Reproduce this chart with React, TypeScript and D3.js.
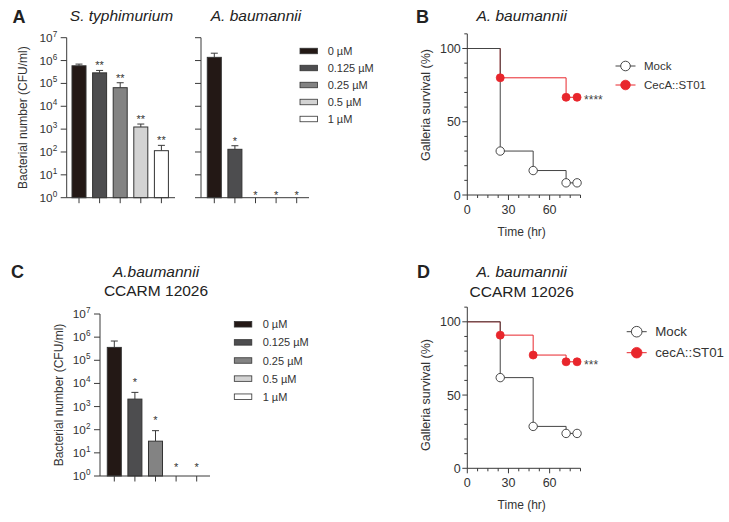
import React from 'react';
import * as d3 from 'd3';

const FONT = 'Liberation Sans, Arial, Helvetica, sans-serif';
const AX = '#3a3a3a';
const RED = '#e8262c';

// ---------- bar data ----------
const concentrations = ['0 µM', '0.125 µM', '0.25 µM', '0.5 µM', '1 µM'];
const barColors = ['#231815', '#4d4d4f', '#838383', '#d3d3d3', '#ffffff'];
const logTicks = [1, 10, 100, 1e3, 1e4, 1e5, 1e6, 1e7];
const logExps = ['0', '1', '2', '3', '4', '5', '6', '7'];

const stMean = [5.9e5, 2.9e5, 6.5e4, 1.24e3, 114];
const stUpper = [7.0e5, 3.7e5, 1.07e5, 1.67e3, 195];
const stSig = ['', '**', '**', '**', '**'];

const abMean = [1.38e6, 131, null, null, null];
const abUpper = [2.1e6, 188, null, null, null];
const abSig = ['', '*', '*', '*', '*'];

const ccMean = [3.6e5, 2.1e3, 32, null, null];
const ccUpper = [6.8e5, 4.1e3, 91, null, null];
const ccSig = ['', '*', '*', '*', '*'];

// ---------- survival data ----------
const timeB = [0, 24, 48, 72, 80];
const mockB = [100, 30, 16.7, 8.3, 8.3];
const timeBRed = [0, 24, 72, 80];
const cecB = [100, 80, 66.7, 66.7];

const timeD = [0, 24, 48, 72, 80];
const mockD = [100, 61.9, 28.6, 23.8, 23.8];
const cecD = [100, 90.9, 77.3, 72.7, 72.7];

const xMajor = [0, 30, 60];
const yMajor = [0, 50, 100];

type BarProps = {
  axisX: number; yTop: number; yBot: number; xEnd: number;
  r0: number; r1: number; mean: (number | null)[]; upper: (number | null)[];
  sig: string[]; labels: boolean; starGap: number; zeroGap: number;
};

function BarPanel(p: BarProps) {
  const y = d3.scaleLog().domain([1, 1e7]).range([p.yBot, p.yTop]);
  const x = d3.scaleBand<string>().domain(concentrations).range([p.r0, p.r1])
    .paddingInner(0.32).paddingOuter(0.16);
  const bw = x.bandwidth();
  return (
    <g>
      {concentrations.map((c, i) => {
        const m = p.mean[i];
        const u = p.upper[i];
        const cx = (x(c) as number) + bw / 2;
        const els: any[] = [];
        if (m != null && u != null) {
          els.push(<line key="e" x1={cx} x2={cx} y1={y(m)} y2={y(u)} stroke={AX} strokeWidth={1} />);
          els.push(<line key="c" x1={cx - 3.5} x2={cx + 3.5} y1={y(u)} y2={y(u)} stroke={AX} strokeWidth={1} />);
          els.push(<rect key="b" x={x(c)} y={y(m)} width={bw} height={p.yBot - y(m)} fill={barColors[i]} stroke="#333" strokeWidth={1} />);
        }
        if (p.sig[i]) {
          const sy = u != null ? y(u) - p.starGap : p.yBot - p.zeroGap;
          els.push(<text key="s" x={cx} y={sy + 5.5} textAnchor="middle" fontSize={11} fill="#333">{p.sig[i]}</text>);
        }
        els.push(<line key="t" x1={cx} x2={cx} y1={p.yBot} y2={p.yBot + 5.5} stroke={AX} strokeWidth={1} />);
        return <g key={c}>{els}</g>;
      })}
      <line x1={p.axisX} x2={p.axisX} y1={p.yTop} y2={p.yBot} stroke={AX} strokeWidth={1} />
      <line x1={p.axisX} x2={p.xEnd} y1={p.yBot} y2={p.yBot} stroke={AX} strokeWidth={1} />
      {logTicks.map((t, i) => (
        <g key={t}>
          <line x1={p.axisX - 6} x2={p.axisX} y1={y(t)} y2={y(t)} stroke={AX} strokeWidth={1} />
          {p.labels && (
            <text x={p.axisX - 9.5} y={y(t) + 4} textAnchor="end" fontSize={11.8} fill="#333">
              <tspan>10</tspan>
              <tspan dy={-5} fontSize={8.2}>{logExps[i]}</tspan>
            </text>
          )}
        </g>
      ))}
    </g>
  );
}

function BarLegend({ x, y0, step, tx }: { x: number; y0: number; step: number; tx: number }) {
  return (
    <g>
      {concentrations.map((c, i) => (
        <g key={c}>
          <rect x={x} y={y0 + i * step - 2.75} width={17.5} height={5.5} fill={barColors[i]} stroke="#333" strokeWidth={0.8} />
          <text x={tx} y={y0 + i * step + 4} fontSize={11} fill="#333">{c}</text>
        </g>
      ))}
    </g>
  );
}

type SurvProps = {
  yTop: number; yBot: number; tMock: number[]; mock: number[]; tRed: number[]; red: number[];
  stars: string; redLabel: string; legX: number; legY1: number; legY2: number; legFont: number; legR: number;
  labelY: number;
};

function SurvPanel(p: SurvProps) {
  const x = d3.scaleLinear().domain([0, 82.5]).range([467.3, 580.5]);
  const yy = d3.scaleLinear().domain([0, 100]).range([p.yBot, p.yBot - 1.465 * 100]);
  const line = d3.line<[number, number]>().x(d => x(d[0])).y(d => yy(d[1])).curve(d3.curveStepAfter);
  const mockPts = p.tMock.map((t, i) => [t, p.mock[i]] as [number, number]);
  const redPts = p.tRed.map((t, i) => [t, p.red[i]] as [number, number]);
  const minorX = d3.range(0, 82.6, 7.5);
  const minorY = d3.range(0, 111, 10);
  const axTop = yy(110);
  const last = redPts[redPts.length - 1];
  return (
    <g>
      <path d={line(redPts) || ''} fill="none" stroke={RED} strokeWidth={1} />
      <path d={line(mockPts) || ''} fill="none" stroke="#444" strokeWidth={1} />
      {redPts.slice(1).map((d, i) => (
        <circle key={'r' + i} cx={x(d[0])} cy={yy(d[1])} r={4} fill={RED} stroke={RED} strokeWidth={0.8} />
      ))}
      {mockPts.slice(1).map((d, i) => (
        <circle key={'m' + i} cx={x(d[0])} cy={yy(d[1])} r={4.2} fill="#fff" stroke="#333" strokeWidth={0.9} />
      ))}
      <text x={x(last[0]) + 7} y={yy(last[1]) + 7} fontSize={12} fill="#444">{p.stars}</text>
      {/* axes */}
      <line x1={x(0)} x2={x(0)} y1={axTop} y2={p.yBot} stroke={AX} strokeWidth={1} />
      <line x1={x(0)} x2={x(82.5)} y1={p.yBot} y2={p.yBot} stroke={AX} strokeWidth={1} />
      {minorX.map(t => (
        <line key={'mx' + t} x1={x(t)} x2={x(t)} y1={p.yBot} y2={p.yBot + (xMajor.includes(t) ? 5 : 3)} stroke={AX} strokeWidth={1} />
      ))}
      {minorY.map(t => (
        <line key={'my' + t} x1={x(0) - (yMajor.includes(t) ? 5 : 3)} x2={x(0)} y1={yy(t)} y2={yy(t)} stroke={AX} strokeWidth={1} />
      ))}
      {xMajor.map(t => (
        <text key={'xl' + t} x={x(t)} y={p.yBot + 19} textAnchor="middle" fontSize={12.5} fill="#333">{t}</text>
      ))}
      {yMajor.map(t => (
        <text key={'yl' + t} x={x(0) - 6.5} y={yy(t) + 4.5} textAnchor="end" fontSize={12.5} fill="#333">{t}</text>
      ))}
      <text x={521.7} y={p.yBot + 41} textAnchor="middle" fontSize={12} fill="#333">Time (hr)</text>
      <text transform={`translate(429.5,${p.labelY}) rotate(-90)`} textAnchor="middle" fontSize={12.5} fill="#333">Galleria survival (%)</text>
      {/* legend */}
      <line x1={p.legX - 10} x2={p.legX + 10} y1={p.legY1} y2={p.legY1} stroke="#444" strokeWidth={1} />
      <circle cx={p.legX} cy={p.legY1} r={p.legR} fill="#fff" stroke="#333" strokeWidth={0.9} />
      <text x={p.legX + 18.5} y={p.legY1 + p.legFont * 0.36} fontSize={p.legFont} fill="#333">Mock</text>
      <line x1={p.legX - 10} x2={p.legX + 10} y1={p.legY2} y2={p.legY2} stroke={RED} strokeWidth={1} />
      <circle cx={p.legX} cy={p.legY2} r={p.legR} fill={RED} stroke={RED} strokeWidth={0.8} />
      <text x={p.legX + 18.5} y={p.legY2 + p.legFont * 0.36} fontSize={p.legFont} fill="#333">{p.redLabel}</text>
    </g>
  );
}

export default function App() {
  return (
    <svg width={729} height={522} viewBox="0 0 729 522"
      style={{ position: 'absolute', left: 0, top: 0, background: '#fff', fontFamily: FONT }}>
      <rect x={0} y={0} width={729} height={522} fill="#fff" />
      {/* Panel A */}
      <text x={12.5} y={22.7} fontSize={18} fontWeight="bold" fill="#222">A</text>
      <text x={121.5} y={20.5} textAnchor="middle" fontSize={15.5} fontStyle="italic" fill="#222">S. typhimurium</text>
      <text x={256} y={20.5} textAnchor="middle" fontSize={15.5} fontStyle="italic" fill="#222">A. baumannii</text>
      <text transform="translate(26.5,117.7) rotate(-90)" textAnchor="middle" fontSize={12} fill="#333">Bacterial number (CFU/ml)</text>
      <BarPanel axisX={66.7} yTop={37.7} yBot={197.7} xEnd={175} r0={68.7} r1={171.7}
        mean={stMean} upper={stUpper} sig={stSig} labels={true} starGap={6.5} zeroGap={4.4} />
      <BarPanel axisX={201} yTop={37.7} yBot={197.7} xEnd={309} r0={204} r1={307}
        mean={abMean} upper={abUpper} sig={abSig} labels={false} starGap={6.5} zeroGap={4.4} />
      <BarLegend x={300} y0={51} step={17} tx={327.7} />

      {/* Panel C */}
      <text x={11} y={277.5} fontSize={18} fontWeight="bold" fill="#222">C</text>
      <text x={156} y={277.3} textAnchor="middle" fontSize={15.5} fontStyle="italic" fill="#222">A.baumannii</text>
      <text x={156} y={296} textAnchor="middle" fontSize={15.5} fill="#222">CCARM 12026</text>
      <text transform="translate(62.5,395) rotate(-90)" textAnchor="middle" fontSize={12} fill="#333">Bacterial number (CFU/ml)</text>
      <BarPanel axisX={100} yTop={314} yBot={476} xEnd={210} r0={104} r1={207}
        mean={ccMean} upper={ccUpper} sig={ccSig} labels={true} starGap={12} zeroGap={10.3} />
      <BarLegend x={234.3} y0={324.3} step={18.1} tx={262.7} />

      {/* Panel B */}
      <text x={416} y={22.7} fontSize={18} fontWeight="bold" fill="#222">B</text>
      <text x={521.7} y={20.5} textAnchor="middle" fontSize={15.5} fontStyle="italic" fill="#222">A. baumannii</text>
      <SurvPanel yTop={34} yBot={195} tMock={timeB} mock={mockB} tRed={timeBRed} red={cecB} labelY={105}
        stars="****" redLabel="CecA::ST01" legX={625.5} legY1={66} legY2={85} legFont={11.5} legR={4.8} />

      {/* Panel D */}
      <text x={417} y={277.5} fontSize={18} fontWeight="bold" fill="#222">D</text>
      <text x={521.7} y={277.3} textAnchor="middle" fontSize={15.5} fontStyle="italic" fill="#222">A. baumannii</text>
      <text x={521.7} y={296.7} textAnchor="middle" fontSize={15.5} fill="#222">CCARM 12026</text>
      <SurvPanel yTop={307} yBot={468.3} tMock={timeD} mock={mockD} tRed={timeD} red={cecD} labelY={395}
        stars="***" redLabel="cecA::ST01" legX={636.7} legY1={331.7} legY2={352.7} legFont={13.3} legR={5.3} />
    </svg>
  );
}
